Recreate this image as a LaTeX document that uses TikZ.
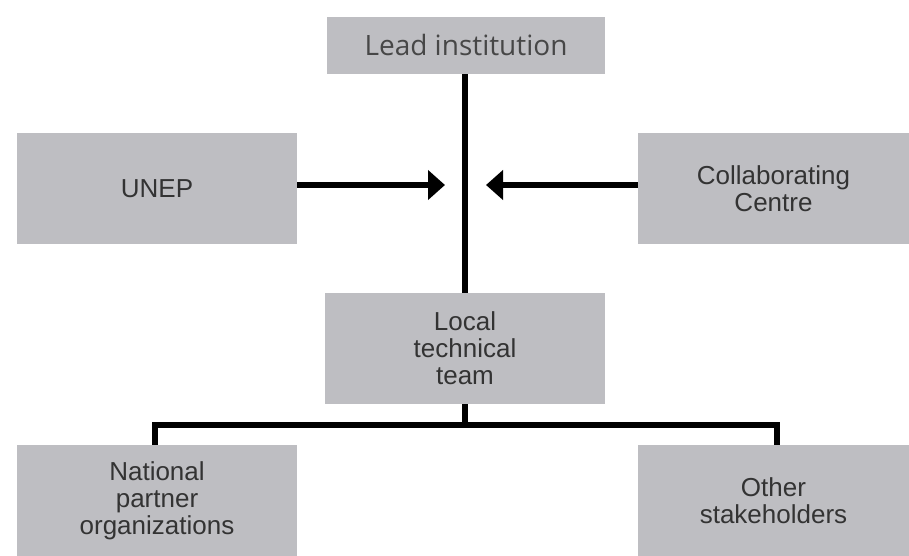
\documentclass[tikz,border=0pt]{standalone}
\usepackage{fontspec}
\setmainfont{Liberation Sans}
\newfontfamily\leadfont{Open Sans}
\usetikzlibrary{arrows.meta}
\definecolor{boxgray}{HTML}{BEBEC2}
\definecolor{txtgray}{HTML}{333333}
\tikzset{
  box/.style={fill=boxgray, draw=none, inner sep=0pt, align=center, text=txtgray,
    font=\fontsize{26}{27}\selectfont},
  conn/.style={line width=5.5pt, black},
  arr/.style={conn, -{Triangle[length=17pt,width=29pt]}}
}
\begin{document}
\begin{tikzpicture}[x=1pt,y=-1pt]
\useasboundingbox[fill=white] (0,0) rectangle (909,556);
\node[box, minimum width=278pt, minimum height=57pt, font=\leadfont\fontsize{28}{29}\selectfont, text=txtgray!90!white] (lead) at (466,45.5) {Lead institution};
\node[box, minimum width=280pt, minimum height=111pt] (unep) at (157,188.5) {UNEP};
\node[box, minimum width=271pt, minimum height=111pt] (collab) at (773.5,188.5) {Collaborating\\Centre};
\node[box, minimum width=280pt, minimum height=111pt] (local) at (465,348.5) {Local\\technical\\team};
\node[box, minimum width=280pt, minimum height=111pt] (natl) at (157,500.5) {National\\partner\\organizations};
\node[box, minimum width=271pt, minimum height=111pt] (other) at (773.5,500.5) {Other\\stakeholders};
\coordinate (ul) at (445,185);
\coordinate (ur) at (486,185);
\coordinate (jn) at (465,425);
\draw[conn] (lead.south -| local.north) -- (local.north);
\draw[arr] (unep.east |- ul) -- (ul);
\draw[arr] (collab.west |- ur) -- (ur);
\draw[conn] (local.south) -- (jn);
\draw[conn, line join=miter] ([xshift=-2pt]natl.north) |- (jn) -| ([xshift=3.5pt]other.north);
\end{tikzpicture}
\end{document}
